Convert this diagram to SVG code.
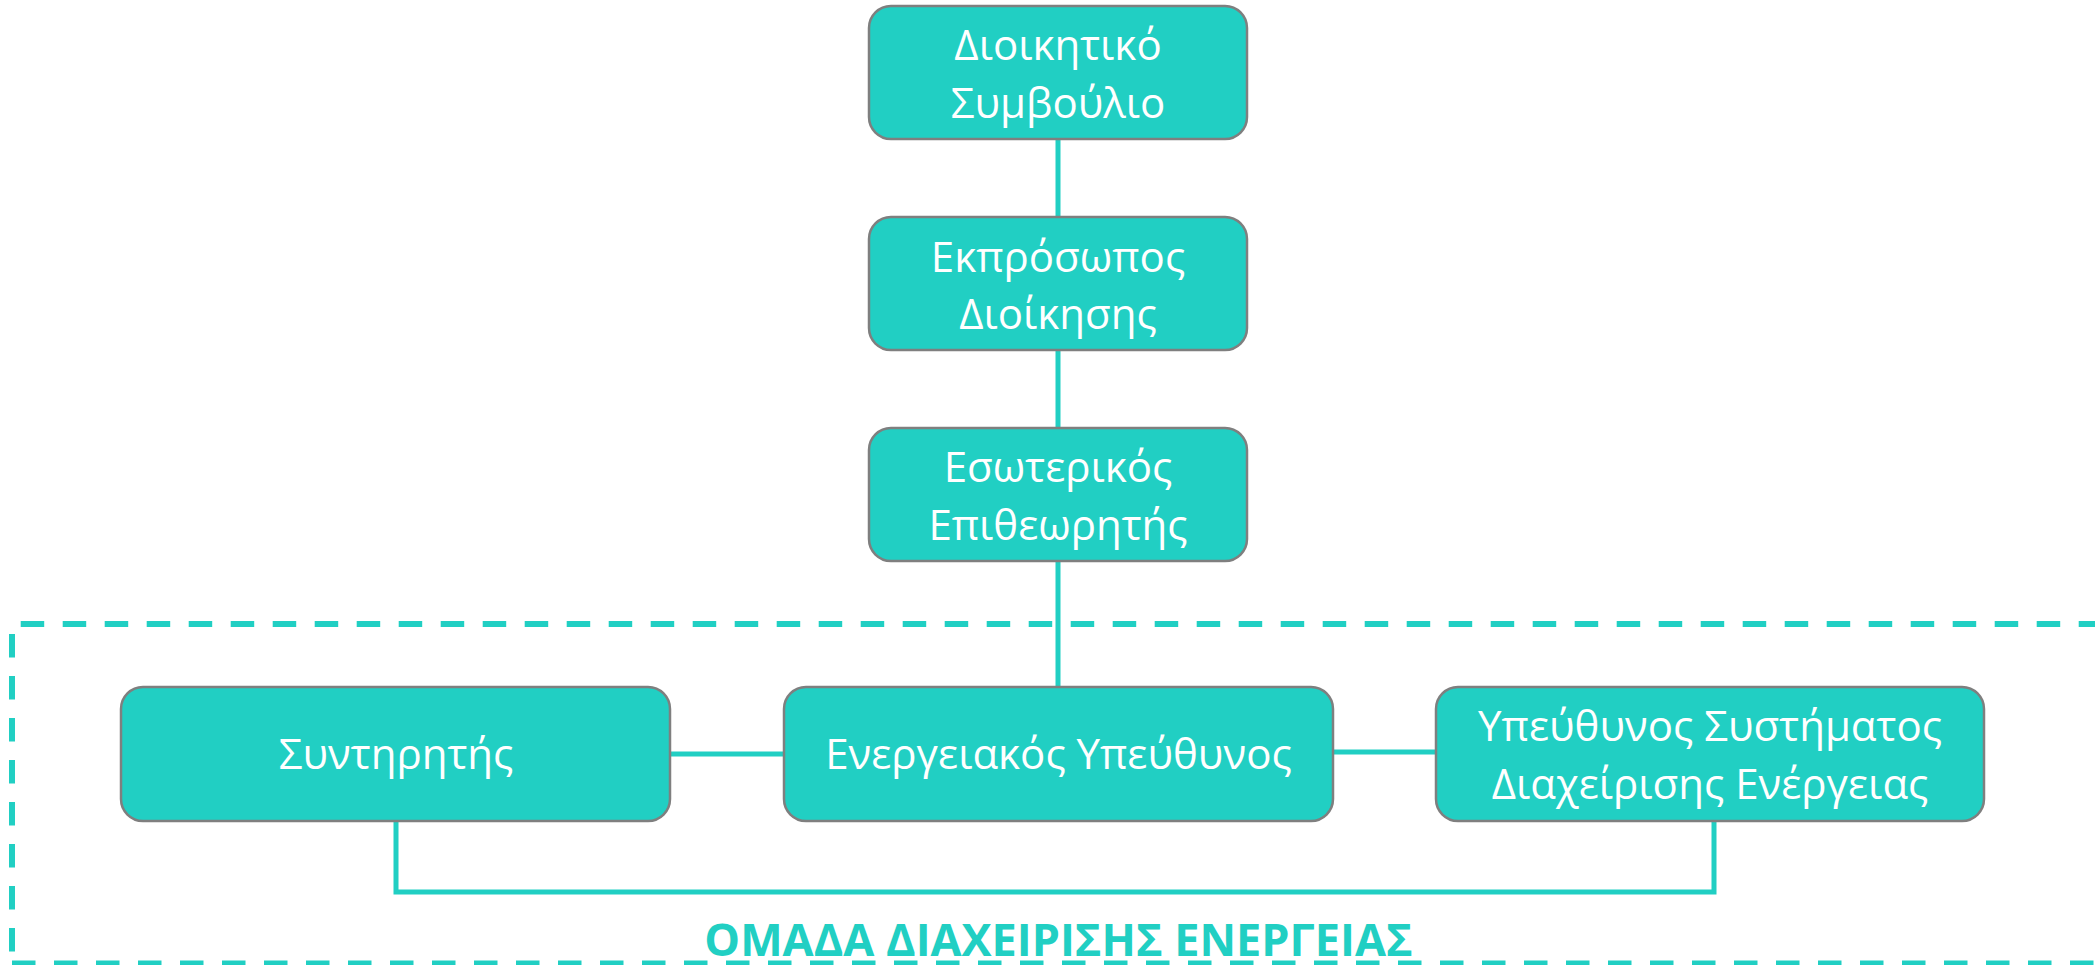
<svg xmlns="http://www.w3.org/2000/svg" width="2095" height="965" viewBox="0 0 2095 965">
<style>
.box{fill:#21CFC3;stroke:#7F7F7F;stroke-width:2.5}
.lbl{font-family:"Open Sans","Noto Sans","DejaVu Sans",sans-serif;font-size:42px;fill:#FFFFFF;text-anchor:middle}
.con{stroke:#21CFC3;stroke-width:5;fill:none}
.dash{stroke:#21CFC3;stroke-width:6;fill:none;stroke-dasharray:23.5 18.5}
.title{font-family:"Open Sans","Noto Sans","DejaVu Sans",sans-serif;font-size:45px;font-weight:bold;fill:#21CFC3;text-anchor:middle}
</style>
<rect width="2095" height="965" fill="#FFFFFF"/>
<g id="group-boundary">
<line class="dash" x1="20.7" y1="624" x2="2095" y2="624"/>
<line class="dash" x1="12" y1="634" x2="12" y2="958"/>
<line class="dash" x1="12" y1="963.5" x2="2095" y2="963.5"/>
<text class="title" x="1058.5" y="956">ΟΜΑΔΑ ΔΙΑΧΕΙΡΙΣΗΣ ΕΝΕΡΓΕΙΑΣ</text>
</g>
<g id="connectors">
<line class="con" x1="1058" y1="139" x2="1058" y2="217"/>
<line class="con" x1="1058" y1="350" x2="1058" y2="428"/>
<line class="con" x1="1058" y1="561" x2="1058" y2="687"/>
<line class="con" x1="670" y1="754" x2="784" y2="754"/>
<line class="con" x1="1333" y1="752" x2="1436" y2="752"/>
<polyline class="con" points="396,821 396,892 1714,892 1714,821"/>
</g>
<g id="node-board">
<rect class="box" x="869" y="6" width="378" height="133" rx="22"/>
<text class="lbl" x="1058" y="60">Διοικητικό</text>
<text class="lbl" x="1058" y="117.5">Συμβούλιο</text>
</g>
<g id="node-representative">
<rect class="box" x="869" y="217" width="378" height="133" rx="22"/>
<text class="lbl" x="1058" y="271.5">Εκπρόσωπος</text>
<text class="lbl" x="1058" y="329">Διοίκησης</text>
</g>
<g id="node-auditor">
<rect class="box" x="869" y="428" width="378" height="133" rx="22"/>
<text class="lbl" x="1058" y="482">Εσωτερικός</text>
<text class="lbl" x="1058" y="539.5">Επιθεωρητής</text>
</g>
<g id="node-maintainer">
<rect class="box" x="121" y="687" width="549" height="134" rx="22"/>
<text class="lbl" x="396" y="769">Συντηρητής</text>
</g>
<g id="node-energy-manager">
<rect class="box" x="784" y="687" width="549" height="134" rx="22"/>
<text class="lbl" x="1058.5" y="769">Ενεργειακός Υπεύθυνος</text>
</g>
<g id="node-ems-manager">
<rect class="box" x="1436" y="687" width="548" height="134" rx="22"/>
<text class="lbl" x="1710" y="741">Υπεύθυνος Συστήματος</text>
<text class="lbl" x="1710" y="799">Διαχείρισης Ενέργειας</text>
</g>
</svg>
